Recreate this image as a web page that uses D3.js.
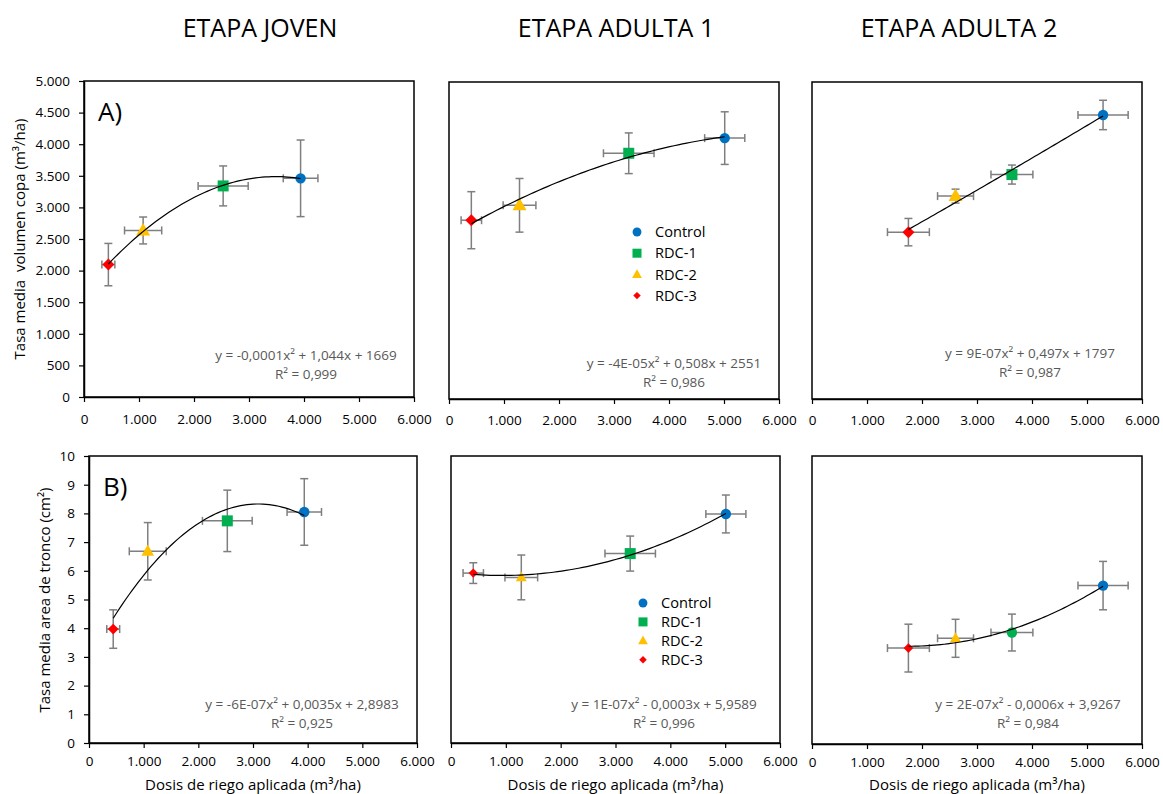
<!DOCTYPE html>
<html lang="es">
<head>
<meta charset="utf-8">
<script src="https://cdn.jsdelivr.net/npm/d3@7"></script>
<style>
  html, body { margin: 0; padding: 0; background: #fff; }
  svg { display: block; font-family: "Open Sans", "Noto Sans", sans-serif; }
  text { white-space: pre; }
</style>
</head>
<body>
<svg id="chart" width="1163" height="794"></svg>
<script>
// ---- Data ---------------------------------------------------------------
// Treatment order: Control, RDC-1, RDC-2, RDC-3
const treatments = ["Control", "RDC-1", "RDC-2", "RDC-3"];
const stages = ["ETAPA JOVEN", "ETAPA ADULTA 1", "ETAPA ADULTA 2"];

// Applied irrigation dose (m3/ha) and its standard error, per stage
const doseJoven      = [3938, 2530, 1075, 443];
const doseErrJoven   = [315, 455, 338, 118];
const doseAdulta1    = [5013, 3268, 1282, 406];
const doseErrAdulta1 = [365, 460, 298, 186];
const doseAdulta2    = [5292, 3635, 2610, 1753];
const doseErrAdulta2 = [456, 381, 327, 381];

// A) Mean canopy volume growth rate (m3/ha)
const copaJoven      = [3460, 3340, 2635, 2095];
const copaErrJoven   = [606, 316, 213, 335];
const copaAdulta1    = [4115, 3876, 3055, 2820];
const copaErrAdulta1 = [415, 321, 423, 450];
const copaAdulta2    = [4480, 3540, 3200, 2632];
const copaErrAdulta2 = [232, 150, 110, 216];

// B) Mean trunk cross-section area growth rate (cm2)
const troncoJoven      = [8.05, 7.74, 6.68, 3.97];
const troncoErrJoven   = [1.16, 1.07, 1.00, 0.67];
const troncoAdulta1    = [7.98, 6.60, 5.77, 5.92];
const troncoErrAdulta1 = [0.66, 0.61, 0.78, 0.36];
const troncoAdulta2    = [5.50, 3.87, 3.67, 3.33];
const troncoErrAdulta2 = [0.84, 0.64, 0.66, 0.83];

// Trendline equations and fit quality
const eqCopa   = ["y = -0,0001x² + 1,044x + 1669", "y = -4E-05x² + 0,508x + 2551", "y = 9E-07x² + 0,497x + 1797"];
const r2Copa   = ["R² = 0,999", "R² = 0,986", "R² = 0,987"];
const eqTronco = ["y = -6E-07x² + 0,0035x + 2,8983", "y = 1E-07x² - 0,0003x + 5,9589", "y = 2E-07x² - 0,0006x + 3,9267"];
const r2Tronco = ["R² = 0,925", "R² = 0,996", "R² = 0,984"];

// Axis ticks
const xTicks = [0, 1000, 2000, 3000, 4000, 5000, 6000];
const yTicksCopa = [0, 500, 1000, 1500, 2000, 2500, 3000, 3500, 4000, 4500, 5000];
const yTicksTronco = [0, 1, 2, 3, 4, 5, 6, 7, 8, 9, 10];

// ---- Styling ------------------------------------------------------------
const colors = ["#0070C0", "#00B050", "#FFC000", "#FF0000"];
const defaultShapes = ["circle", "square", "triangle", "diamond"];
const errColor = "#7F7F7F";
const eqColor = "#595959";

// Spanish number format: thousands with a dot
const fmtThousands = d => d3.format(",")(d).replace(/,/g, ".");

// ---- Panel layout -------------------------------------------------------
const panels = [
  { x0: 84,  x1: 414,  y0: 81,  y1: 397, dose: doseJoven,   doseErr: doseErrJoven,   val: copaJoven,     valErr: copaErrJoven,     yMax: 5000, yTicks: yTicksCopa,   yFmt: fmtThousands, yAxis: true,  eq: eqCopa[0],   r2: r2Copa[0],   eqX: 222, eqY: -37, tag: "A)", xLblDy: 30, small: 1 },
  { x0: 449, x1: 779,  y0: 82,  y1: 399, dose: doseAdulta1, doseErr: doseErrAdulta1, val: copaAdulta1,   valErr: copaErrAdulta1,   yMax: 5000, yTicks: yTicksCopa,   yFmt: fmtThousands, yAxis: false, eq: eqCopa[1],   r2: r2Copa[1],   eqX: 225, eqY: -31, legend: { x: 637, y: 232, dy: 21.2 }, xLblDy: 29, small: 1 },
  { x0: 812, x1: 1142, y0: 82,  y1: 399, dose: doseAdulta2, doseErr: doseErrAdulta2, val: copaAdulta2,   valErr: copaErrAdulta2,   yMax: 5000, yTicks: yTicksCopa,   yFmt: fmtThousands, yAxis: false, eq: eqCopa[2],   r2: r2Copa[2],   eqX: 218, eqY: -41, xLblDy: 29, small: 1 },
  { x0: 89,  x1: 417,  y0: 456, y1: 743, dose: doseJoven,   doseErr: doseErrJoven,   val: troncoJoven,   valErr: troncoErrJoven,   yMax: 10,   yTicks: yTicksTronco, yFmt: d => String(d), yAxis: true,  eq: eqTronco[0], r2: r2Tronco[0], eqX: 213, eqY: -34, tag: "B)", xLblDy: 26, small: 0.9, xTitle: true },
  { x0: 451, x1: 780,  y0: 456, y1: 743, dose: doseAdulta1, doseErr: doseErrAdulta1, val: troncoAdulta1, valErr: troncoErrAdulta1, yMax: 10,   yTicks: yTicksTronco, yFmt: d => String(d), yAxis: false, eq: eqTronco[1], r2: r2Tronco[1], eqX: 213, eqY: -34, legend: { x: 643, y: 603, dy: 18.9 }, xLblDy: 26, small: 0.78, xTitle: true },
  { x0: 812, x1: 1142, y0: 456, y1: 744, dose: doseAdulta2, doseErr: doseErrAdulta2, val: troncoAdulta2, valErr: troncoErrAdulta2, yMax: 10,   yTicks: yTicksTronco, yFmt: d => String(d), yAxis: false, eq: eqTronco[2], r2: r2Tronco[2], eqX: 216, eqY: -35, xLblDy: 26, small: 0.8, xTitle: true,
    shapes: ["circle", "circle", "triangle", "diamond"] }
];

const svg = d3.select("#chart");

// Marker path generator (Excel-like shapes)
function markerPath(shape, s) {
  const p = d3.path();
  if (shape === "circle") {
    const r = 5.2 * s;
    p.arc(0, 0, r, 0, 2 * Math.PI);
  } else if (shape === "square") {
    const h = 5.5 * s;
    p.rect(-h, -h, 2 * h, 2 * h);
  } else if (shape === "triangle") {
    const w = 7 * s;
    p.moveTo(0, -7.5 * s); p.lineTo(w, 5 * s); p.lineTo(-w, 5 * s); p.closePath();
  } else {
    const h = 6 * s;
    p.moveTo(0, -h); p.lineTo(h, 0); p.lineTo(0, h); p.lineTo(-h, 0); p.closePath();
  }
  return p.toString();
}

// Least-squares polynomial of order 2 (Excel style trendline)
function quadFit(xs, ys) {
  let S = [0, 0, 0, 0, 0], T = [0, 0, 0];
  xs.forEach((x, i) => {
    let xp = 1;
    for (let k = 0; k < 5; k++) { S[k] += xp; if (k < 3) T[k] += xp * ys[i]; xp *= x; }
  });
  const A = [[S[0], S[1], S[2], T[0]], [S[1], S[2], S[3], T[1]], [S[2], S[3], S[4], T[2]]];
  for (let c = 0; c < 3; c++) {
    for (let r = c + 1; r < 3; r++) {
      const f = A[r][c] / A[c][c];
      for (let k = c; k < 4; k++) A[r][k] -= f * A[c][k];
    }
  }
  const coef = [0, 0, 0];
  for (let r = 2; r >= 0; r--) {
    let s = A[r][3];
    for (let k = r + 1; k < 3; k++) s -= A[r][k] * coef[k];
    coef[r] = s / A[r][r];
  }
  return x => coef[0] + coef[1] * x + coef[2] * x * x;
}

panels.forEach((P, pi) => {
  const x = d3.scaleLinear().domain([0, 6000]).range([P.x0, P.x1]);
  const y = d3.scaleLinear().domain([0, P.yMax]).range([P.y1, P.y0]);
  const g = svg.append("g");
  const shapes = P.shapes || defaultShapes;

  // Plot frame
  g.append("rect")
    .attr("x", P.x0).attr("y", P.y0)
    .attr("width", P.x1 - P.x0).attr("height", P.y1 - P.y0)
    .attr("fill", "none").attr("stroke", "#000").attr("stroke-width", 1.5);

  // X axis
  const xa = g.append("g").attr("transform", `translate(0,${P.y1})`)
    .call(d3.axisBottom(x).tickValues(xTicks).tickFormat(fmtThousands).tickSize(5).tickSizeOuter(0));
  xa.select(".domain").attr("stroke", "#000").attr("stroke-width", 1.5);
  xa.selectAll(".tick line").attr("stroke", "#000").attr("stroke-width", 1.2);
  xa.selectAll(".tick text").attr("y", P.xLblDy - 13).attr("dy", "0.71em")
    .attr("font-size", 13.5).attr("fill", "#000").attr("font-family", "Open Sans");

  // Y axis (left column only)
  if (P.yAxis) {
    const ya = g.append("g").attr("transform", `translate(${P.x0},0)`)
      .call(d3.axisLeft(y).tickValues(P.yTicks).tickFormat(P.yFmt).tickSize(5).tickSizeOuter(0));
    ya.select(".domain").attr("stroke", "#000").attr("stroke-width", 1.5);
    ya.selectAll(".tick line").attr("stroke", "#000").attr("stroke-width", 1.2);
    ya.selectAll(".tick text").attr("x", -14)
      .attr("font-size", 13.5).attr("fill", "#000").attr("font-family", "Open Sans");
  }

  const pts = treatments.map((t, i) => ({
    t, i, dx: P.dose[i], ex: P.doseErr[i], vy: P.val[i], ey: P.valErr[i]
  }));

  // Error bars
  const eb = g.append("g").attr("stroke", errColor).attr("stroke-width", 1.5).attr("fill", "none");
  const cap = 4;
  pts.forEach(d => {
    const cx = x(d.dx), cy = y(d.vy);
    const yt = y(d.vy + d.ey), yb = y(d.vy - d.ey);
    const xl = x(d.dx - d.ex), xr = x(d.dx + d.ex);
    eb.append("line").attr("x1", cx).attr("x2", cx).attr("y1", yt).attr("y2", yb);
    eb.append("line").attr("x1", cx - cap).attr("x2", cx + cap).attr("y1", yt).attr("y2", yt);
    eb.append("line").attr("x1", cx - cap).attr("x2", cx + cap).attr("y1", yb).attr("y2", yb);
    eb.append("line").attr("x1", xl).attr("x2", xr).attr("y1", cy).attr("y2", cy);
    eb.append("line").attr("x1", xl).attr("x2", xl).attr("y1", cy - cap).attr("y2", cy + cap);
    eb.append("line").attr("x1", xr).attr("x2", xr).attr("y1", cy - cap).attr("y2", cy + cap);
  });

  // Markers
  g.append("g").selectAll("path").data(pts).join("path")
    .attr("transform", d => `translate(${x(d.dx)},${y(d.vy)})`)
    .attr("d", d => markerPath(shapes[d.i], (shapes[d.i] === "triangle" || shapes[d.i] === "diamond") ? P.small : 1))
    .attr("fill", d => colors[d.i]);

  // Polynomial trendline over the range of applied doses
  const f = quadFit(P.dose, P.val);
  const [xmin, xmax] = d3.extent(P.dose);
  const samples = d3.range(0, 61).map(k => xmin + (xmax - xmin) * k / 60);
  g.append("path")
    .datum(samples)
    .attr("d", d3.line().x(v => x(v)).y(v => y(f(v))).curve(d3.curveLinear))
    .attr("fill", "none").attr("stroke", "#000").attr("stroke-width", 1.2);

  // Equation and R²
  g.append("text").attr("x", P.x0 + P.eqX).attr("y", P.y1 + P.eqY)
    .attr("text-anchor", "middle").attr("font-size", 13.5).attr("fill", eqColor).text(P.eq);
  g.append("text").attr("x", P.x0 + P.eqX).attr("y", P.y1 + P.eqY + 19)
    .attr("text-anchor", "middle").attr("font-size", 13.5).attr("fill", eqColor).text(P.r2);

  // Panel tag
  if (P.tag) {
    g.append("text").attr("x", P.x0 + 14).attr("y", P.y0 + 40)
      .attr("font-size", 26).attr("fill", "#000").text(P.tag);
  }

  // Legend
  if (P.legend) {
    const L = g.append("g");
    treatments.forEach((t, i) => {
      const ly = P.legend.y + i * P.legend.dy;
      const s = i === 0 ? 0.85 : i === 1 ? 0.82 : i === 2 ? 0.7 : 0.62;
      L.append("path").attr("transform", `translate(${P.legend.x},${ly})`)
        .attr("d", markerPath(defaultShapes[i], s)).attr("fill", colors[i]);
      L.append("text").attr("x", P.legend.x + 18).attr("y", ly).attr("dy", "0.35em")
        .attr("font-size", 14.6).attr("fill", "#000").text(t);
    });
  }

  // X axis title (bottom row)
  if (P.xTitle) {
    g.append("text").attr("x", (P.x0 + P.x1) / 2).attr("y", 790)
      .attr("text-anchor", "middle").attr("font-size", 15).attr("fill", "#000")
      .text("Dosis de riego aplicada (m³/ha)");
  }
});

// Stage titles
const titleX = [260, 616, 959];
stages.forEach((s, i) => {
  svg.append("text").attr("x", titleX[i]).attr("y", 37)
    .attr("text-anchor", "middle").attr("font-size", 25).attr("fill", "#000").text(s);
});

// Y axis titles
svg.append("text").attr("transform", "translate(20,239) rotate(-90)")
  .attr("text-anchor", "middle").attr("dy", "0.35em")
  .attr("font-size", 15).attr("fill", "#000").text("Tasa media  volumen copa (m³/ha)");
svg.append("text").attr("transform", "translate(45,600) rotate(-90)")
  .attr("text-anchor", "middle").attr("dy", "0.35em")
  .attr("font-size", 15).attr("fill", "#000").text("Tasa media area de tronco (cm²)");
</script>
</body>
</html>
